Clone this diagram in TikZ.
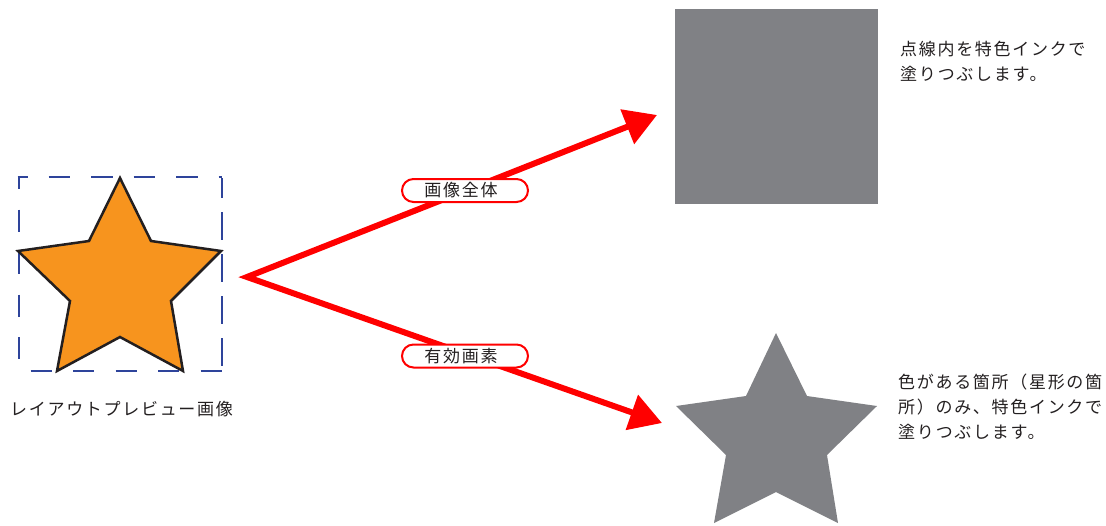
\documentclass[tikz,border=0pt]{standalone}
\usepackage{fontspec}
\newfontfamily\jp[LetterSpace=10]{Noto Sans CJK JP}
\usetikzlibrary{arrows.meta}
\definecolor{starorange}{RGB}{247,148,30}
\definecolor{inkgray}{RGB}{128,129,133}
\definecolor{dashblue}{RGB}{46,68,155}
\definecolor{txt}{RGB}{35,31,32}
\begin{document}
\begin{tikzpicture}[x=1pt,y=-1pt,
  jptext/.style={font={\jp\fontsize{17}{25}\selectfont},text=txt,inner sep=0pt,align=left},
  redarrow/.style={draw=red,line width=6pt,line join=miter,{Triangle[length=32pt,width=36pt]}-{Triangle[length=32pt,width=36pt]}},
  pill/.style={draw=red,line width=2pt,fill=white,rounded corners=11.5pt,minimum width=126pt,minimum height=23pt,inner sep=0pt,font={\jp\fontsize{17}{18}\selectfont},text=txt},
  outlinestar/.style={draw=txt,line width=2.5pt,fill=starorange,line join=miter},
  dashedge/.style={dashblue,line width=2.7pt,line cap=butt},
  inkfill/.style={fill=inkgray}
]
\useasboundingbox (0,0) rectangle (1106,525);

% preview image frame
\coordinate (f1) at (19,177);
\coordinate (f2) at (222,177);
\coordinate (f3) at (222,371);
\coordinate (f4) at (19,371);
\draw[dashedge,dash pattern=on 21.5pt off 21pt,dash phase=11.5pt] ([xshift=-1.35pt]f1) -- (f2);
\draw[dashedge,dash pattern=on 28pt off 14pt,dash phase=8pt] ([yshift=-1.35pt]f2) -- (f3);
\draw[dashedge,dash pattern=on 21pt off 21.5pt,dash phase=31pt] (f4) -- ([xshift=1.35pt]f3);
\draw[dashedge,dash pattern=on 22pt off 20.5pt,dash phase=10pt] (f1) -- (f4);
\draw[outlinestar] (120,178) -- (151,241) -- (221,251) -- (171,301) -- (183,371) -- (120,337) -- (57,371) -- (70,301) -- (18,251) -- (89,241) -- cycle;
\node[jptext,anchor=base west] (cap) at (10,415) {レイアウトプレビュー画像};

% results
\fill[inkfill] (675,9) rectangle (878,204);
\fill[inkfill] (776,333) -- (807,396) -- (877,406) -- (827,455) -- (838,523) -- (776,492) -- (714,523) -- (726,455) -- (676,406) -- (746,396) -- cycle;

\node[jptext,anchor=base west] (desc1) at (900,80) {点線内を特色インクで\\塗りつぶします。};
\node[jptext,anchor=base west] (desc2) at (898,438) {色がある箇所（星形の箇\\所）のみ、特色インクで\\塗りつぶします。};

% arrows
\coordinate (v) at (247,277);
\coordinate (t1) at (657,115);
\coordinate (t2) at (662,423);
\draw[redarrow] (t1) -- (v) -- (t2);
\node[pill] (l1) at (465,190.5) {画像全体\kern8pt};
\node[pill] (l2) at (465,356) {有効画素\kern8pt};
\end{tikzpicture}
\end{document}
